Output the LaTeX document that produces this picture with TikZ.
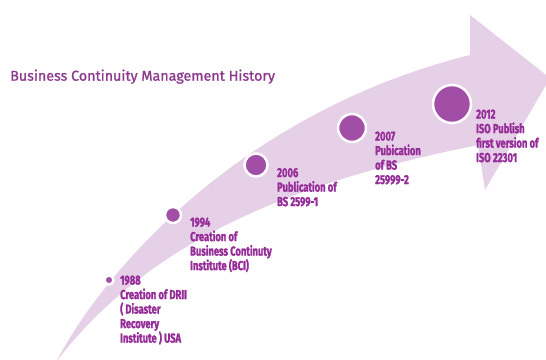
\documentclass[tikz,border=0pt]{standalone}
\usepackage{fontspec}
\setmainfont{Fira Sans}
\newfontfamily\labelfont[FakeStretch=0.72,FakeBold=1.6]{Fira Sans}
\newfontfamily\titlefont[FakeBold=1.1]{Fira Sans}
\definecolor{bandlilac}{RGB}{229,208,231}
\definecolor{dotpurple}{RGB}{162,78,166}
\definecolor{labelpurple}{RGB}{150,44,152}
\definecolor{titlepurple}{RGB}{140,58,142}
\tikzset{
  milestone/.style={circle, inner sep=0pt, fill=dotpurple, draw=white, line width=2.5pt},
  milestonetext/.style={anchor=north west, inner sep=0pt, align=left, text=labelpurple,
    font=\labelfont\bfseries\fontsize{13}{14.5}\selectfont},
  headline/.style={anchor=base west, inner sep=0pt, text=titlepurple,
    font=\titlefont\fontsize{14.3}{16}\selectfont}
}
\begin{document}
\begin{tikzpicture}[x=1pt,y=-1pt]
\fill[white] (0,0) rectangle (546,359);
\useasboundingbox (0,0) rectangle (546,359);

% curved timeline arrow
\fill[bandlilac] (56,362) .. controls (110,260) and (250,110) .. (470,55)
  -- (470,15) -- (550,78) -- (485,190) -- (478,145)
  .. controls (330,175) and (160,225) .. (56,362) -- cycle;

\node[headline] (title) at (10,80.7) {Business Continuity Management History};

% milestones
\node[milestone, minimum size=9pt]  (d1988) at (109,280) {};
\node[milestone, minimum size=16pt] (d1994) at (173,215) {};
\node[milestone, minimum size=23pt] (d2006) at (256,165) {};
\node[milestone, minimum size=28pt] (d2007) at (352,128) {};
\node[milestone, minimum size=38pt] (d2012) at (452,104) {};

\node[milestonetext] (t1988) at (120,275.4) {1988\\Creation of DRII\\( Disaster\\Recovery\\Institute ) USA};
\node[milestonetext] (t1994) at (190,217.4) {1994\\Creation of\\Business Continuty\\Institute (BCI)};
\node[milestonetext] (t2006) at (277,167.9) {2006\\Publication of\\BS 2599-1};
\node[milestonetext] (t2007) at (375,131.4) {2007\\Pubication\\of BS\\25999-2};
\node[milestonetext] (t2012) at (476,109.4) {2012\\ISO Publish\\first version of\\ISO 22301};
\end{tikzpicture}
\end{document}
